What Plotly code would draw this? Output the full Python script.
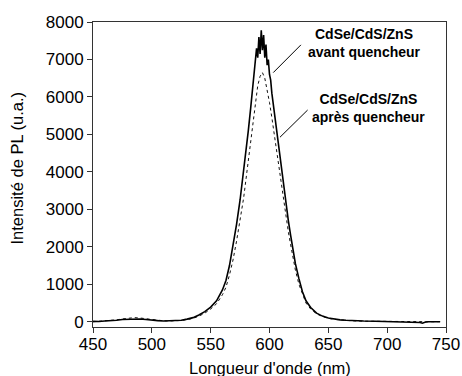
import plotly.graph_objects as go

# Emission spectra of CdSe/CdS/ZnS quantum dots, before and after adding the quencher
wl_avant = [450, 455, 460, 465, 470, 475, 480, 485, 490, 495, 500, 505, 510, 515, 520,
            525, 530, 535, 540, 545, 550, 555, 560, 563, 566, 569, 572, 575, 578, 580,
            582, 584, 586, 588, 589, 590, 591, 592, 593, 594, 595, 596, 597, 598, 599,
            600, 601, 602, 604, 606, 608, 610, 612, 614, 616, 618, 620, 622, 625, 628,
            631, 635, 640, 645, 650, 655, 660, 665, 670, 680, 690, 700, 710, 720, 725,
            728, 730, 732, 735, 740, 745]
pl_avant = [10, 5, 20, 25, 40, 60, 70, 80, 75, 60, 40, 30, 20, 20, 25,
            40, 70, 110, 180, 270, 390, 560, 850, 1100, 1500, 2000, 2600, 3250, 4000, 4550,
            5100, 5700, 6300, 6900, 7300, 7050, 7600, 7150, 7780, 7250, 7650, 7050, 7400, 6850, 7000,
            6600, 6450, 6100, 5600, 5100, 4700, 4200, 3700, 3200, 2700, 2300, 1900, 1550, 1150, 800,
            560, 380, 230, 150, 100, 70, 50, 40, 30, 20, 15, 10, 5, 0, -5,
            -20, -40, -15, 0, 5, 0]

wl_apres = [450, 455, 460, 465, 470, 475, 480, 485, 490, 495, 500, 505, 510, 515, 520,
            525, 530, 535, 540, 545, 550, 555, 560, 563, 566, 569, 572, 575, 578, 580,
            582, 584, 586, 588, 590, 592, 594, 596, 598, 600, 602, 604, 606, 608, 610,
            612, 614, 616, 618, 620, 622, 625, 628, 631, 635, 640, 645, 650, 655, 660,
            670, 680, 690, 700, 710, 720, 730, 740, 745]
pl_apres = [0, 10, 15, 30, 50, 75, 95, 110, 100, 80, 55, 35, 25, 20, 25,
            35, 55, 90, 150, 230, 340, 480, 720, 920, 1250, 1650, 2150, 2700, 3300, 3800,
            4300, 4850, 5400, 5900, 6300, 6550, 6650, 6500, 6200, 5850, 5450, 5000, 4550, 4150, 3750,
            3300, 2850, 2400, 2050, 1700, 1380, 1000, 720, 500, 340, 210, 140, 90, 65, 45,
            25, 15, 10, 5, 0, -5, -10, 0, 5]

x_ticks = [450, 500, 550, 600, 650, 700, 750]
y_ticks = [0, 1000, 2000, 3000, 4000, 5000, 6000, 7000, 8000]

label_avant = "<b>CdSe/CdS/ZnS<br>avant quencheur</b>"
label_apres = "<b>CdSe/CdS/ZnS<br>après quencheur</b>"

font = "Liberation Sans, Arial, sans-serif"

fig = go.Figure()
fig.add_trace(go.Scatter(x=wl_apres, y=pl_apres, mode="lines",
                         line=dict(color="#111", width=1, dash="dot"),
                         name="après quencheur"))
fig.add_trace(go.Scatter(x=wl_avant, y=pl_avant, mode="lines",
                         line=dict(color="#000", width=1.6),
                         name="avant quencheur"))

# leader lines from the labels to each spectrum
fig.add_shape(type="line", x0=626.7, y0=7390, x1=603.2, y1=6650,
              line=dict(color="#000", width=1))
fig.add_shape(type="line", x0=632.4, y0=5650, x1=608.9, y1=4925,
              line=dict(color="#000", width=1))

fig.add_annotation(x=681, y=7440, text=label_avant, showarrow=False,
                   xanchor="center", yanchor="middle",
                   font=dict(family=font, size=14, color="#000"))
fig.add_annotation(x=684, y=5700, text=label_apres, showarrow=False,
                   xanchor="center", yanchor="middle",
                   font=dict(family=font, size=14, color="#000"))

# axis titles placed in the margins
fig.add_annotation(xref="paper", yref="paper", x=0.5, y=-0.135,
                   text="Longueur d'onde (nm)", showarrow=False,
                   xanchor="center", yanchor="middle",
                   font=dict(family=font, size=16.5, color="#000"))
fig.add_annotation(xref="paper", yref="paper", x=-0.215, y=0.52,
                   text="Intensité de PL (u.a.)", showarrow=False, textangle=-90,
                   xanchor="center", yanchor="middle",
                   font=dict(family=font, size=16.5, color="#000"))

axis_common = dict(showgrid=False, zeroline=False, showline=True, linecolor="#333",
                   linewidth=1, mirror=True, ticks="outside", ticklen=5,
                   tickcolor="#333", automargin=False,
                   tickfont=dict(family=font, size=17, color="#000"))

fig.update_xaxes(range=[450, 750], tickvals=x_ticks, ticklabelstandoff=-3, **axis_common)
fig.update_yaxes(range=[-140, 8000], tickvals=y_ticks, **axis_common)

fig.update_layout(width=462, height=376, showlegend=False,
                  margin=dict(l=93, r=16, t=22, b=49),
                  paper_bgcolor="white", plot_bgcolor="white")

fig.write_html("out.html")
